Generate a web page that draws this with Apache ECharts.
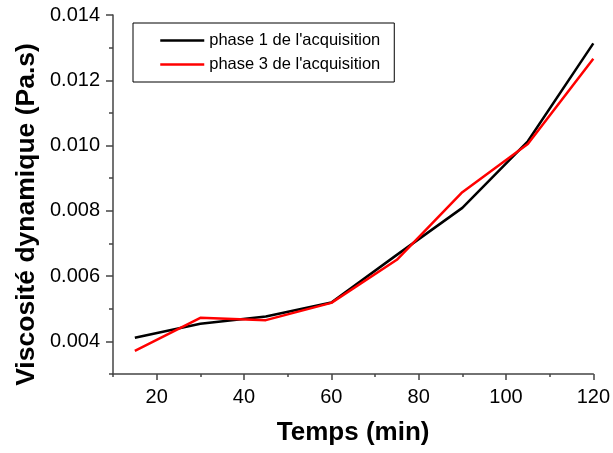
<!DOCTYPE html>
<html>
<head>
<meta charset="utf-8">
<script src="https://cdn.jsdelivr.net/npm/echarts@6/dist/echarts.min.js"></script>
<style>html,body{margin:0;padding:0;background:#fff}#c{width:613px;height:453px}</style>
</head>
<body>
<div id="c"></div>
<script>
const times = [15, 30, 45, 60, 75, 90, 105, 120];
const phase1 = [0.00411, 0.00454, 0.00476, 0.00519, 0.00665, 0.00809, 0.01013, 0.01313];
const phase3 = [0.00371, 0.00472, 0.00465, 0.00518, 0.00650, 0.00857, 0.01005, 0.01266];
const xTicks = [20, 40, 60, 80, 100, 120];
const yTicks = [0.004, 0.006, 0.008, 0.010, 0.012, 0.014];
const seriesNames = ["phase 1 de l'acquisition", "phase 3 de l'acquisition"];

const FONT = 'Liberation Sans, Arial, sans-serif';
const AXC = '#444';
const chart = echarts.init(document.getElementById('c'), null, {renderer: 'canvas'});
chart.setOption({
  animation: false,
  backgroundColor: '#fff',
  grid: {left: 113, right: 19, top: 15, bottom: 79},
  legend: {
    orient: 'vertical', left: 133, top: 23,
    padding: [9, 14, 9, 26],
    borderColor: '#000', borderWidth: 1,
    itemWidth: 44, itemHeight: 14, itemGap: 7,
    itemStyle: {opacity: 0},
    lineStyle: {width: 2.5},
    textStyle: {fontFamily: FONT, fontSize: 16.5, color: '#000'},
    data: seriesNames
  },
  xAxis: [{
    type: 'value', min: 10, max: 120, interval: 10,
    axisLine: {show: true, lineStyle: {color: AXC, width: 1.5}},
    axisTick: {show: true, inside: false, length: 3, lineStyle: {color: AXC, width: 1.5}},
    axisLabel: {show: false},
    splitLine: {show: false},
    name: 'Temps (min)', nameLocation: 'middle', nameGap: 46,
    nameTextStyle: {fontFamily: FONT, fontSize: 26, fontWeight: 'bold', color: '#000'}
  }, {
    type: 'value', min: 10, max: 120, position: 'bottom',
    axisLine: {show: false},
    axisTick: {show: true, length: 6, customValues: xTicks, lineStyle: {color: AXC, width: 1.5}},
    axisLabel: {show: true, customValues: xTicks, margin: 13, fontFamily: FONT, fontSize: 20, color: '#000'},
    splitLine: {show: false}
  }],
  yAxis: [{
    type: 'value', min: 0.003, max: 0.014, interval: 0.001,
    axisLine: {show: true, lineStyle: {color: AXC, width: 1.5}},
    axisTick: {show: true, length: 4, lineStyle: {color: AXC, width: 1.5}},
    axisLabel: {show: false},
    splitLine: {show: false},
    name: 'Viscosité dynamique (Pa.s)', nameLocation: 'middle', nameGap: 73,
    nameTextStyle: {fontFamily: FONT, fontSize: 26.5, fontWeight: 'bold', color: '#000', padding: [0, 40, 0, 0]}
  }, {
    type: 'value', min: 0.003, max: 0.014, position: 'left',
    axisLine: {show: false},
    axisTick: {show: true, length: 7, customValues: yTicks, lineStyle: {color: AXC, width: 1.5}},
    axisLabel: {show: true, customValues: yTicks, margin: 13, fontFamily: FONT, fontSize: 20, color: '#000',
      formatter: v => v.toFixed(3)},
    splitLine: {show: false}
  }],
  series: [{
    name: seriesNames[0], type: 'line', xAxisIndex: 0, yAxisIndex: 0,
    data: times.map((t, i) => [t, phase1[i]]),
    symbol: 'none', lineStyle: {color: '#000', width: 2.5}, itemStyle: {color: '#000'}
  }, {
    name: seriesNames[1], type: 'line', xAxisIndex: 0, yAxisIndex: 0,
    data: times.map((t, i) => [t, phase3[i]]),
    symbol: 'none', lineStyle: {color: '#ff0000', width: 2.5}, itemStyle: {color: '#ff0000'}
  }]
});
</script>
</body>
</html>
